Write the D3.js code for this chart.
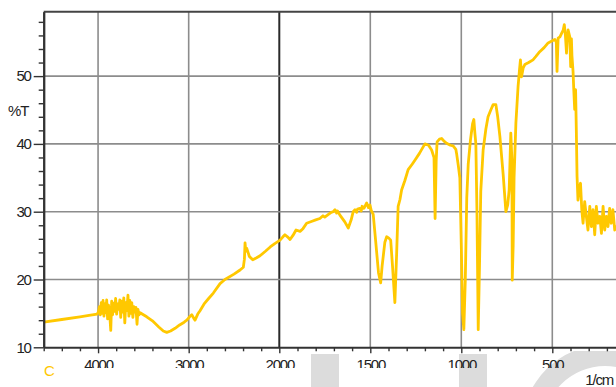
<!DOCTYPE html>
<html>
<head>
<meta charset="utf-8">
<script src="https://cdn.jsdelivr.net/npm/d3@7"></script>
<style>
  html, body { margin: 0; padding: 0; background: #fff; }
  svg { display: block; font-family: "Liberation Sans", Arial, sans-serif; }
</style>
</head>
<body>
<div id="chart"></div>
<script>
// IR spectrum, %T vs wavenumber (1/cm). Axis is split at 2000: coarser above, finer below.

var wavenumber = [
  4600, 4400, 4200, 4100, 4010,
  3996, 3985, 3975, 3965, 3955, 3945, 3935, 3925, 3915, 3905, 3895, 3885, 3872, 3860,
  3850, 3840, 3830, 3818, 3806, 3795, 3784, 3772, 3760, 3750, 3740, 3728, 3716, 3705,
  3694, 3682, 3670, 3660, 3650, 3640, 3628, 3616, 3605, 3594, 3582, 3570, 3560, 3548, 3536,
  3500, 3463, 3400, 3330, 3280, 3242, 3200, 3150, 3100, 3050, 3021, 2990, 2966, 2945, 2930,
  2900, 2875, 2830, 2780, 2728, 2654, 2600, 2500, 2433, 2397, 2385, 2378, 2370, 2360, 2345,
  2330, 2293, 2250, 2213, 2150, 2100, 2050, 1996, 1980, 1969, 1955, 1941, 1925, 1908, 1886,
  1870, 1850, 1820, 1800, 1777, 1760, 1750, 1730, 1715, 1704, 1694, 1685, 1680, 1667, 1640,
  1621, 1605, 1594, 1584, 1575, 1570, 1557, 1550, 1545, 1535, 1520, 1510, 1502, 1495, 1484,
  1470, 1455, 1443, 1435, 1420, 1410, 1398, 1388, 1378, 1365, 1355, 1347, 1337, 1328, 1310,
  1292, 1270, 1255, 1230, 1200, 1180, 1163, 1150, 1144, 1138, 1133, 1120, 1108, 1095, 1081,
  1060, 1045, 1030, 1026, 1017, 1008, 1000, 993, 986, 978, 970, 962, 950, 938, 931,
  925, 920, 914, 907, 900, 893, 880, 865, 853, 838, 825, 810, 800, 788, 770,
  755, 745, 737, 728, 722, 720, 715, 710, 700, 688, 680, 675, 669, 660, 651,
  630, 606, 590, 569, 545, 523, 500, 486, 478, 474, 468, 458, 449, 440, 434,
  428, 422, 418, 413, 404, 399, 395, 392, 386, 382, 377, 372, 368, 364, 359,
  352, 345, 338, 331, 322, 313, 304, 294, 285, 276, 267, 258, 249, 239, 230,
  221, 212, 203, 194, 185, 176, 167, 157, 152
];

var transmittance = [
  13.7, 14.1, 14.5, 14.7, 14.9,
  15.2, 16.0, 14.8, 16.6, 15.0, 16.9, 14.6, 16.4, 15.1, 17.0, 14.2, 16.2, 15.0, 12.5,
  16.8, 14.8, 16.5, 15.3, 17.2, 14.9, 16.4, 15.6, 17.0, 14.4, 16.8, 15.2, 17.3, 13.6,
  16.6, 15.4, 17.7, 14.6, 16.9, 15.0, 16.6, 14.4, 16.0, 15.2, 15.9, 13.4, 15.6, 14.8, 15.1,
  14.8, 14.5, 13.9, 13.0, 12.4, 12.2, 12.4, 12.8, 13.3, 13.7, 14.0, 14.5, 14.8, 14.3, 14.0,
  14.9, 15.4, 16.4, 17.2, 18.0, 19.4, 20.0, 20.8, 21.4, 21.8, 23.0, 25.4, 24.2, 24.6, 24.0,
  23.4, 22.9, 23.2, 23.5, 24.2, 24.8, 25.3, 25.8, 26.3, 26.6, 26.3, 25.9, 26.5, 27.3, 27.1,
  27.5, 28.3, 28.6, 28.8, 29.0, 29.4, 29.2, 29.6, 29.9, 30.0, 30.3, 29.8, 30.1, 29.5, 28.5,
  27.6, 28.8, 30.0, 30.3, 29.9, 30.4, 30.5, 30.1, 30.8, 30.5, 31.3, 30.6, 31.0, 30.2, 29.6,
  25.5, 21.0, 19.5, 22.0, 25.5, 26.3, 26.1, 25.8, 22.0, 16.6, 24.0, 30.8, 31.8, 33.2, 34.6,
  36.2, 37.0, 37.6, 38.6, 40.0, 39.8, 39.1, 38.0, 29.0, 37.5, 40.3, 40.7, 40.8, 40.4, 40.1,
  39.8, 39.7, 39.2, 38.6, 36.9, 35.0, 25.0, 15.0, 12.6, 20.0, 32.0, 37.0, 40.5, 43.0, 43.6,
  41.5, 40.0, 30.0, 12.6, 22.0, 33.0, 39.1, 42.2, 44.0, 45.0, 45.8, 45.8, 44.0, 41.1, 35.5,
  30.0, 31.0, 33.2, 41.6, 37.6, 19.9, 25.0, 35.0, 43.1, 48.5, 51.0, 52.4, 49.9, 51.2, 51.7,
  52.0, 52.4, 52.9, 53.6, 54.2, 54.9, 55.2, 55.4, 55.0, 50.7, 55.6, 55.8, 56.3, 56.8, 57.6,
  56.0, 53.4, 55.5, 56.8, 55.8, 51.4, 55.5, 53.0, 50.7, 48.0, 45.1, 48.0, 42.0, 35.2, 31.7,
  33.5, 34.2, 30.3, 28.3, 31.5, 29.3, 27.3, 30.8, 27.8, 30.3, 26.6, 30.8, 28.3, 29.3, 26.8,
  30.8, 27.3, 29.3, 27.8, 30.5, 28.3, 30.3, 27.3, 28.0
];

var xMajorTicks = [4000, 3000, 2000, 1500, 1000, 500];
var xMinorTicks = [4600, 4400, 4200, 3800, 3600, 3400, 3200, 2800, 2600, 2400, 2200,
  1900, 1800, 1700, 1600, 1400, 1300, 1200, 1100, 900, 800, 700, 600, 400, 300, 200];
var yMajorTicks = [10, 20, 30, 40, 50];
var yMinorTicks = [12, 14, 16, 18, 22, 24, 26, 28, 32, 34, 36, 38, 42, 44, 46, 48, 52, 54, 56, 58];

var width = 616, height = 387;
var plotLeft = 43.7, plotTop = 11.7, plotBottom = 347.3;
var ink = '#333';
var trace = '#ffc800';

var svg = d3.select('#chart').append('svg')
    .attr('width', width)
    .attr('height', height);

// split scale: 1000 per ~91px above 2000, 500 per ~91px below
var x = d3.scaleLinear()
    .domain([4600, 2000, 100])
    .range([plotLeft, 279.3, 279.3 + 1900 * 91 / 500]);

var y = d3.scaleLinear()
    .domain([10, 59.5])
    .range([plotBottom, plotTop]);

// faint watermark behind the axis labels, only below the plot
svg.append('clipPath').attr('id', 'wmclip')
    .append('rect').attr('x', 0).attr('y', 351).attr('width', width).attr('height', 40);

var wm = svg.append('g').attr('fill', '#dcdcdc').attr('clip-path', 'url(#wmclip)');
wm.append('rect').attr('x', 311).attr('y', 354).attr('width', 28).attr('height', 40);
wm.append('rect').attr('x', 459).attr('y', 354).attr('width', 28).attr('height', 40);
wm.append('path')
    .attr('transform', 'translate(605,428)')
    .attr('d', d3.arc().innerRadius(62).outerRadius(83).startAngle(0).endAngle(2 * Math.PI)());

// grid
var grid = svg.append('g');
grid.selectAll('line.v')
    .data(xMajorTicks)
    .join('line')
    .attr('class', 'v')
    .attr('x1', function (d) { return x(d); })
    .attr('x2', function (d) { return x(d); })
    .attr('y1', plotTop)
    .attr('y2', plotBottom)
    .attr('stroke', function (d) { return d === 2000 ? '#2a2a2a' : '#8c8c8c'; })
    .attr('stroke-width', function (d) { return d === 2000 ? 2 : 1.6; });

grid.selectAll('line.h')
    .data(yMajorTicks.slice(1))
    .join('line')
    .attr('class', 'h')
    .attr('x1', plotLeft)
    .attr('x2', width)
    .attr('y1', function (d) { return y(d); })
    .attr('y2', function (d) { return y(d); })
    .attr('stroke', '#8c8c8c')
    .attr('stroke-width', 1.6);

// spectrum
var data = wavenumber.map(function (w, i) { return { w: w, t: transmittance[i] }; });

svg.append('clipPath').attr('id', 'plot')
    .append('rect').attr('x', plotLeft).attr('y', plotTop)
    .attr('width', width - plotLeft).attr('height', plotBottom - plotTop);

svg.append('path')
    .datum(data)
    .attr('clip-path', 'url(#plot)')
    .attr('fill', 'none')
    .attr('stroke', trace)
    .attr('stroke-width', 2.8)
    .attr('stroke-linejoin', 'round')
    .attr('d', d3.line()
        .x(function (d) { return x(d.w); })
        .y(function (d) { return y(d.t); }));

// frame
svg.append('line')
    .attr('x1', plotLeft).attr('x2', width)
    .attr('y1', plotTop).attr('y2', plotTop)
    .attr('stroke', '#444').attr('stroke-width', 2);

function styleAxis(g) {
    g.select('.domain').attr('stroke', ink).attr('stroke-width', 2);
    g.selectAll('.tick line').attr('stroke', ink).attr('stroke-width', 1.4);
    g.selectAll('text')
        .attr('fill', '#222')
        .attr('font-size', '15px')
        .style('letter-spacing', '-1.2px');
}

// y axis
svg.append('g')
    .attr('transform', 'translate(' + plotLeft + ',0)')
    .call(d3.axisLeft(y).tickValues(yMinorTicks).tickSize(5).tickSizeOuter(0).tickFormat(''))
    .call(styleAxis);

svg.append('g')
    .attr('transform', 'translate(' + plotLeft + ',0)')
    .call(d3.axisLeft(y).tickValues(yMajorTicks).tickSize(10).tickPadding(3).tickSizeOuter(0))
    .call(styleAxis);

// x axis; labels are cut off at the bottom like in the original print
svg.append('clipPath').attr('id', 'xlab')
    .append('rect').attr('x', 0).attr('y', 0).attr('width', width).attr('height', 368);

svg.append('g')
    .attr('transform', 'translate(0,' + plotBottom + ')')
    .call(d3.axisBottom(x).tickValues(xMinorTicks).tickSize(4).tickSizeOuter(0).tickFormat(''))
    .call(styleAxis);

svg.append('g')
    .attr('clip-path', 'url(#xlab)')
    .append('g')
    .attr('transform', 'translate(0,' + plotBottom + ')')
    .call(d3.axisBottom(x).tickValues(xMajorTicks).tickSize(6).tickPadding(6)
        .tickSizeOuter(0).tickFormat(d3.format('d')))
    .call(styleAxis)
    .call(function (g) { g.select('.domain').remove(); });

// titles
svg.append('text')
    .attr('x', 8).attr('y', 116)
    .attr('fill', '#222')
    .attr('font-size', '15px')
    .style('letter-spacing', '-1.2px')
    .text('%T');

svg.append('text')
    .attr('x', 613).attr('y', 385)
    .attr('text-anchor', 'end')
    .attr('fill', '#222')
    .attr('font-size', '15px')
    .style('letter-spacing', '-1.2px')
    .text('1/cm');

svg.append('text')
    .attr('x', 44).attr('y', 376)
    .attr('fill', trace)
    .attr('font-size', '15px')
    .text('C');
</script>
</body>
</html>
